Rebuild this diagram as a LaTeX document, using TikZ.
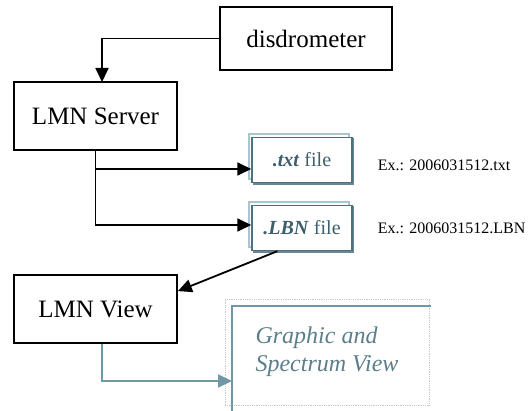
\documentclass[tikz,border=0pt]{standalone}
\usepackage{fontspec}
\setmainfont{Liberation Serif}
\usetikzlibrary{arrows.meta,calc,shadows}
\definecolor{filedark}{RGB}{78,113,128}
\definecolor{filelight}{RGB}{169,198,207}
\definecolor{filetext}{RGB}{61,95,108}
\definecolor{viewteal}{RGB}{111,152,166}
\definecolor{gfxtext}{RGB}{91,126,139}
\definecolor{framegray}{RGB}{200,200,200}

\begin{document}
\begin{tikzpicture}[x=1pt, y=-1pt, >={Triangle[length=14pt,width=13pt]}, line width=1.8pt]
    \tikzstyle{block}=[draw=black,line width=1.8pt,fill=white,inner sep=0pt,font=\fontsize{25}{30}\selectfont]
    \tikzstyle{filebox}=[draw=filedark,line width=1.5pt,fill=white,inner sep=0pt,
        minimum width=100pt,minimum height=45pt,text=filetext,font=\fontsize{20}{24}\selectfont,
        general shadow={shadow xshift=-3pt,shadow yshift=3pt,draw=filelight,line width=2pt,fill=white},
        general shadow={shadow xshift=1.5pt,shadow yshift=-1.5pt,draw=filedark!85,line width=1.5pt}]
    \tikzstyle{example}=[anchor=west,inner sep=0pt,font=\fontsize{16}{19}\selectfont]

    \useasboundingbox (0,0) rectangle (529,411);

    \node[block,minimum width=172pt,minimum height=63pt] (dis) at (306,38.5)  {disdrometer};
    \node[block,minimum width=163pt,minimum height=68pt] (srv) at (95.5,116)  {LMN Server};
    \node[filebox] (txt) at (302,160) {\textbf{\textit{.txt}} file};
    \node[filebox] (lbn) at (302,228) {\textbf{\textit{.LBN}} file};
    \node[example] (txtex) at (377,165) {Ex.: 2006031512.txt};
    \node[example] (lbnex) at (377,228) {Ex.: 2006031512.LBN};
    \node[block,minimum width=163pt,minimum height=68pt] (view) at (95.5,309) {LMN View};
    \node[draw=framegray,densely dotted,line width=0.8pt,minimum width=204pt,minimum height=106pt,
        inner sep=0pt,align=left,text=gfxtext,font=\fontsize{24}{28}\selectfont\itshape] (gfx) at (327,352)
        {Graphic and\\Spectrum View};

    \coordinate (srvin) at (102,82);
    \coordinate (br1) at (96,169);
    \coordinate (br2) at (96,225);
    \coordinate (gfxin) at (232,381);

    \draw[viewteal,line width=1.6pt] (232,413) -- (232,306) -- (431,306);

    \draw[->] (dis.west) -| (srvin);
    \draw[->] (srv.south) |- (br1 -| txt.west);
    \draw[->] (srv.south) |- (br2 -| lbn.west);
    \draw[->] ($(lbn.south west)+(26,0)$) -- ($(view.north east)+(0,17)$);
    \draw[viewteal,->] ($(view.south)+(6.5,0)$) |- (gfxin);

\end{tikzpicture}
\end{document}
